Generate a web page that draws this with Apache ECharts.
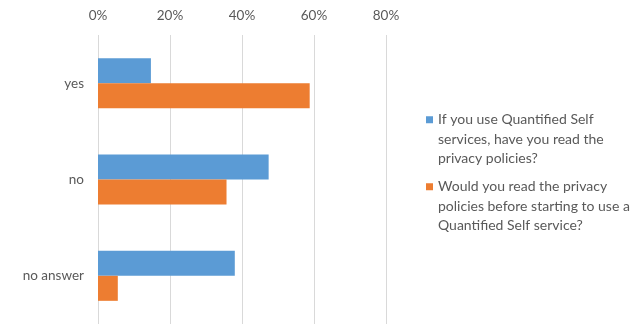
<!DOCTYPE html>
<html>
<head>
    <meta charset="utf-8">
    <title>Quantified Self privacy policies</title>
    <style>
    html, body { margin: 0; padding: 0; background: #fff; }
    </style>
    <script type="text/javascript" src="https://cdn.jsdelivr.net/npm/echarts@6/dist/echarts.min.js"></script>
</head>
<body>
    <div id="main" style="width:635px;height:324px"></div>
    <script>
    var categories = ['yes', 'no', 'no answer'];
    var seriesNames = [
        'If you use Quantified Self\nservices, have you read the\nprivacy policies?',
        'Would you read the privacy\npolicies before starting to use a\nQuantified Self service?'
    ];
    var readPolicies = [14.7, 47.4, 38.0];     // blue
    var wouldRead = [58.8, 35.7, 5.5];         // orange
    var colors = ['#5B9BD5', '#ED7D31'];

    var font = 'Lato';
    var textColor = '#595959';

    // legend text is centered on the icon, two blank lines on top put the first line beside it
    function makeLegend(name, top) {
        return {
            orient: 'vertical',
            left: 426,
            top: top,
            padding: 0,
            itemWidth: 7,
            itemHeight: 7,
            icon: 'rect',
            data: [name],
            formatter: function (n) { return '\n\n' + n; },
            textStyle: {
                fontFamily: font,
                fontSize: 14,
                color: textColor,
                lineHeight: 19.5
            }
        };
    }

    var option = {
        animation: false,
        color: colors,
        grid: {
            left: 98,
            width: 288,
            top: 35,
            height: 292
        },
        legend: [
            makeLegend(seriesNames[0], 71),
            makeLegend(seriesNames[1], 138)
        ],
        xAxis: {
            type: 'value',
            position: 'top',
            min: 0,
            max: 80,
            interval: 20,
            axisLine: { show: false },
            axisTick: { show: false },
            axisLabel: {
                formatter: '{value}%',
                margin: 12,
                fontFamily: font,
                fontSize: 13.5,
                color: textColor
            },
            splitLine: {
                show: true,
                lineStyle: { color: '#d9d9d9', width: 1 }
            }
        },
        yAxis: {
            type: 'category',
            inverse: true,
            data: categories,
            axisLine: { show: false },
            axisTick: { show: false },
            axisLabel: {
                margin: 14,
                fontFamily: font,
                fontSize: 13.5,
                color: textColor
            }
        },
        series: [{
            name: seriesNames[0],
            type: 'bar',
            barWidth: 25,
            barGap: '0%',
            data: readPolicies
        }, {
            name: seriesNames[1],
            type: 'bar',
            barWidth: 25,
            barGap: '0%',
            data: wouldRead
        }]
    };

    var myChart = echarts.init(document.getElementById('main'));
    myChart.setOption(option);
    </script>
</body>
</html>
